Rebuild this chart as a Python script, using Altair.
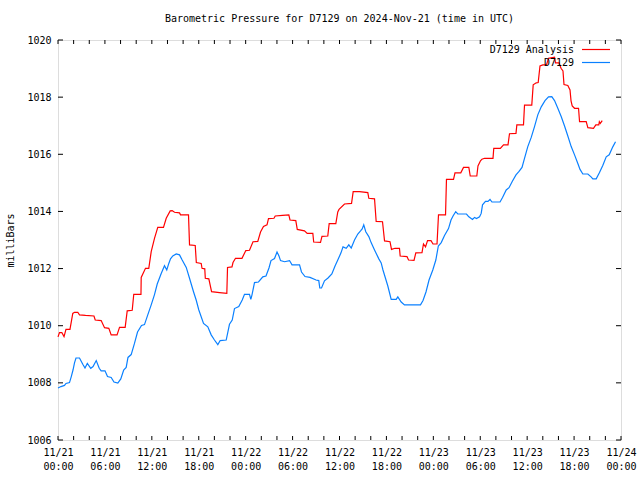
import altair as alt
import pandas as pd

FONT = "DejaVu Sans Mono"
TITLE = "Barometric Pressure for D7129 on 2024-Nov-21 (time in UTC)"
Y_TITLE = "milliBars"
SERIES = ["D7129 Analysis", "D7129"]
COLORS = ["#ff0000", "#0a80ff"]

# hours since 2024-11-21 00:00 UTC
analysis_hours = [0.0, 0.19, 0.49, 0.77, 1.02, 1.53, 1.89, 2.11, 2.53, 2.75, 3.52, 4.60, 4.76, 5.52,
                  5.95, 6.50, 6.80, 7.55, 7.87, 8.59, 8.85, 9.49, 9.69, 10.61, 10.64, 11.19, 11.61,
                  11.92, 12.34, 12.76, 13.49, 13.84, 14.35, 14.60, 14.90, 15.54, 15.67, 16.69, 16.82,
                  17.55, 17.69, 18.31, 18.42, 18.77, 18.84, 19.29, 19.64, 20.65, 21.59, 21.68, 22.25,
                  22.38, 22.70, 23.53, 24.02, 24.49, 24.94, 25.55, 25.90, 26.28, 26.73, 26.92, 27.62,
                  27.78, 28.71, 29.52, 29.67, 30.41, 30.60, 31.52, 31.87, 32.59, 32.70, 33.57, 33.76,
                  34.50, 34.68, 35.53, 35.78, 35.94, 36.64, 37.54, 37.75, 38.56, 39.62, 39.75, 40.48,
                  40.69, 41.50, 41.76, 42.46, 42.65, 43.10, 43.67, 43.76, 44.63, 44.83, 45.53, 45.76,
                  46.55, 46.74, 47.00, 47.26, 47.70, 47.96, 48.47, 48.66, 49.56, 49.68, 50.58, 50.77,
                  51.51, 51.86, 52.54, 52.72, 53.56, 53.71, 54.03, 54.22, 54.55, 55.63, 55.73, 56.57,
                  56.98, 57.55, 57.74, 58.57, 58.68, 59.53, 59.66, 60.59, 60.77, 61.16, 61.41, 61.64,
                  62.00, 62.47, 62.73, 63.50, 63.62, 64.07, 64.33, 64.58, 64.71, 65.20, 65.48, 65.61,
                  65.76, 66.06, 66.57, 66.70, 67.55, 67.76, 68.48, 68.78, 69.16, 69.23, 69.35, 69.60]
analysis_mb = [1009.61, 1009.76, 1009.76, 1009.62, 1009.87, 1009.87, 1010.43, 1010.47, 1010.47, 1010.38,
               1010.36, 1010.34, 1010.20, 1010.18, 1009.93, 1009.91, 1009.68, 1009.68, 1009.94, 1009.94,
               1010.52, 1010.54, 1011.10, 1011.10, 1011.69, 1012.01, 1012.01, 1012.59, 1013.06, 1013.44,
               1013.44, 1013.76, 1014.02, 1014.03, 1013.97, 1013.95, 1013.88, 1013.88, 1012.83, 1012.81,
               1012.21, 1012.18, 1012.01, 1011.99, 1011.66, 1011.64, 1011.19, 1011.16, 1011.13, 1012.04,
               1012.06, 1012.21, 1012.36, 1012.36, 1012.63, 1012.64, 1012.94, 1012.95, 1013.28, 1013.47,
               1013.53, 1013.75, 1013.76, 1013.84, 1013.86, 1013.88, 1013.70, 1013.68, 1013.37, 1013.32,
               1013.23, 1013.23, 1012.93, 1012.92, 1013.13, 1013.14, 1013.57, 1013.57, 1013.98, 1014.07,
               1014.26, 1014.28, 1014.69, 1014.69, 1014.66, 1014.46, 1014.44, 1013.65, 1013.64, 1012.97,
               1012.94, 1012.67, 1012.71, 1012.71, 1012.44, 1012.42, 1012.30, 1012.29, 1012.55, 1012.56,
               1012.86, 1012.76, 1012.98, 1012.98, 1012.86, 1012.86, 1013.88, 1013.88, 1015.12, 1015.12,
               1015.35, 1015.35, 1015.54, 1015.54, 1015.24, 1015.24, 1015.59, 1015.77, 1015.83, 1015.86,
               1015.86, 1016.21, 1016.21, 1016.33, 1016.33, 1016.72, 1016.73, 1017.03, 1017.03, 1017.72,
               1017.72, 1018.43, 1018.50, 1018.51, 1019.09, 1019.13, 1019.13, 1019.36, 1019.40, 1019.20,
               1019.20, 1019.01, 1018.92, 1018.44, 1018.41, 1018.25, 1017.87, 1017.69, 1017.61, 1017.61,
               1017.14, 1017.14, 1016.93, 1016.91, 1017.03, 1017.03, 1017.14, 1017.08, 1017.18]

obs_hours = [0.0, 0.38, 0.83, 1.02, 1.47, 1.69, 1.92, 2.11, 2.30, 2.75, 3.17, 3.45, 3.75, 4.19, 4.48,
             4.89, 5.27, 5.52, 6.01, 6.33, 6.80, 7.16, 7.65, 8.03, 8.40, 8.72, 8.95, 9.36, 9.78, 10.17,
             10.68, 11.06, 11.48, 11.92, 12.34, 12.69, 13.20, 13.62, 13.91, 14.17, 14.39, 14.68, 15.12,
             15.54, 15.88, 16.40, 16.82, 17.33, 17.67, 18.01, 18.61, 19.16, 19.59, 20.01, 20.44, 20.74,
             21.51, 21.93, 22.28, 22.57, 23.12, 23.56, 23.85, 24.49, 24.66, 24.81, 25.13, 25.64, 26.19,
             26.60, 26.98, 27.24, 27.69, 28.01, 28.26, 28.46, 28.97, 29.61, 29.93, 30.89, 31.14, 31.59,
             32.23, 33.00, 33.35, 33.48, 33.70, 34.08, 34.53, 35.02, 35.43, 35.78, 36.19, 36.45, 36.86,
             37.19, 37.50, 37.92, 38.34, 38.69, 38.90, 39.10, 39.36, 39.75, 40.06, 40.48, 41.03, 41.33,
             41.56, 41.88, 42.18, 42.61, 43.25, 43.46, 43.89, 44.31, 46.36, 46.68, 47.06, 47.45, 47.93,
             48.32, 48.64, 49.01, 49.43, 49.94, 50.26, 50.52, 50.86, 51.13, 52.24, 52.54, 53.01, 53.27,
             53.52, 53.91, 54.12, 54.29, 54.67, 54.99, 55.25, 55.50, 56.53, 56.85, 57.32, 57.68, 58.09,
             58.57, 58.96, 59.34, 59.66, 60.08, 60.52, 60.94, 61.36, 61.80, 62.28, 62.73, 63.15, 63.50,
             63.92, 64.35, 64.78, 65.20, 65.63, 66.06, 66.48, 66.76, 67.12, 67.76, 68.17, 68.40, 68.83,
             69.25, 69.67, 70.11, 70.49, 70.95, 71.30]
obs_mb = [1007.82, 1007.87, 1007.91, 1007.98, 1008.01, 1008.21, 1008.45, 1008.70, 1008.87, 1008.87,
          1008.65, 1008.52, 1008.68, 1008.51, 1008.57, 1008.78, 1008.51, 1008.42, 1008.42, 1008.22,
          1008.19, 1008.03, 1007.99, 1008.14, 1008.45, 1008.54, 1008.89, 1008.99, 1009.38, 1009.78,
          1010.01, 1010.04, 1010.38, 1010.73, 1011.09, 1011.46, 1011.83, 1012.10, 1011.95, 1012.18,
          1012.34, 1012.44, 1012.51, 1012.48, 1012.30, 1012.04, 1011.66, 1011.19, 1010.90, 1010.55,
          1010.08, 1009.96, 1009.68, 1009.50, 1009.34, 1009.48, 1009.50, 1010.05, 1010.20, 1010.60,
          1010.67, 1010.90, 1011.10, 1011.10, 1010.92, 1011.08, 1011.51, 1011.53, 1011.71, 1011.74,
          1012.02, 1012.28, 1012.35, 1012.58, 1012.44, 1012.28, 1012.24, 1012.28, 1012.13, 1012.13,
          1011.88, 1011.72, 1011.69, 1011.60, 1011.58, 1011.32, 1011.32, 1011.57, 1011.67, 1011.81,
          1012.09, 1012.30, 1012.55, 1012.76, 1012.71, 1012.83, 1012.72, 1013.00, 1013.21, 1013.32,
          1013.39, 1013.53, 1013.29, 1013.12, 1012.90, 1012.65, 1012.34, 1012.20, 1011.95, 1011.66,
          1011.39, 1010.92, 1010.92, 1011.01, 1010.83, 1010.73, 1010.73, 1010.88, 1011.18, 1011.60,
          1011.95, 1012.30, 1012.79, 1012.91, 1013.16, 1013.40, 1013.70, 1013.84, 1013.99, 1013.91,
          1013.91, 1013.81, 1013.72, 1013.79, 1013.75, 1013.81, 1013.93, 1014.23, 1014.35, 1014.35,
          1014.42, 1014.33, 1014.33, 1014.49, 1014.75, 1014.83, 1015.05, 1015.28, 1015.40, 1015.54,
          1015.86, 1016.27, 1016.59, 1016.97, 1017.38, 1017.66, 1017.88, 1018.01, 1018.02, 1017.88,
          1017.61, 1017.32, 1016.99, 1016.64, 1016.27, 1015.98, 1015.68, 1015.47, 1015.31, 1015.31,
          1015.21, 1015.14, 1015.14, 1015.36, 1015.61, 1015.91, 1015.98, 1016.26, 1016.44]

x_label_ticks = list(range(0, 73, 6))
x_all_ticks = list(range(0, 73, 2))
y_ticks = list(range(1006, 1021, 2))

W, H = 563, 400
TICK = 4

df = pd.concat([
    pd.DataFrame({"hour": analysis_hours, "mb": analysis_mb, "series": SERIES[0]}),
    pd.DataFrame({"hour": obs_hours, "mb": obs_mb, "series": SERIES[1]}),
], ignore_index=True)

xscale = alt.Scale(domain=[0, 72], nice=False, zero=False)
yscale = alt.Scale(domain=[1006, 1020], nice=False, zero=False)

x_axis = alt.Axis(
    values=x_label_ticks, ticks=False, domain=False, grid=False, title=None,
    labelExpr="['11/' + (21 + floor(datum.value / 24)), ((datum.value % 24) < 10 ? '0' : '') + (datum.value % 24) + ':00']",
    labelFont=FONT, labelFontSize=10, labelColor="black", labelPadding=7,
    labelLineHeight=14, labelBaseline="top", labelFlush=False, labelOverlap=False,
)
y_axis = alt.Axis(
    values=y_ticks, ticks=False, domain=False, grid=False, title=Y_TITLE, format="d",
    labelFont=FONT, labelFontSize=10, labelColor="black", labelPadding=7,
    titleFont=FONT, titleFontSize=10, titleFontWeight="normal", titleColor="black",
    titleX=-48, titleY=200, titleAngle=270, titleBaseline="middle", titleAlign="center",
)

lines = alt.Chart(df).mark_line(strokeWidth=1.2).encode(
    x=alt.X("hour:Q", scale=xscale, axis=x_axis),
    y=alt.Y("mb:Q", scale=yscale, axis=y_axis),
    color=alt.Color("series:N", scale=alt.Scale(domain=SERIES, range=COLORS), legend=None),
)

xt = pd.DataFrame({"hour": x_all_ticks})
yt = pd.DataFrame({"mb": y_ticks})

bottom_ticks = alt.Chart(xt).mark_rule(color="black", strokeWidth=1).encode(
    x=alt.X("hour:Q", scale=xscale, axis=x_axis), y=alt.value(H), y2=alt.value(H - TICK))
top_ticks = alt.Chart(xt).mark_rule(color="black", strokeWidth=1).encode(
    x=alt.X("hour:Q", scale=xscale, axis=x_axis), y=alt.value(0), y2=alt.value(TICK))
left_ticks = alt.Chart(yt).mark_rule(color="black", strokeWidth=1).encode(
    y=alt.Y("mb:Q", scale=yscale, axis=y_axis), x=alt.value(0), x2=alt.value(TICK + 1))
right_ticks = alt.Chart(yt).mark_rule(color="black", strokeWidth=1).encode(
    y=alt.Y("mb:Q", scale=yscale, axis=y_axis), x=alt.value(W - TICK - 1), x2=alt.value(W))

legend_layers = []
for i, (name, col) in enumerate(zip(SERIES, COLORS)):
    ld = pd.DataFrame({"label": [name]})
    yy = 9.5 + 13 * i
    legend_layers.append(
        alt.Chart(ld).mark_text(align="right", baseline="middle", font=FONT, fontSize=10, color="black").encode(
            text="label:N", x=alt.value(516), y=alt.value(yy))
    )
    legend_layers.append(
        alt.Chart(ld).mark_rule(color=col, strokeWidth=1.2).encode(
            x=alt.value(524), x2=alt.value(552), y=alt.value(yy))
    )

chart = alt.layer(lines, bottom_ticks, top_ticks, left_ticks, right_ticks, *legend_layers).properties(
    width=W, height=H,
    title=alt.TitleParams(TITLE, font=FONT, fontSize=10, fontWeight="normal", color="black",
                          anchor="middle", offset=11),
    autosize=alt.AutoSizeParams(type="none"),
    padding={"left": 58, "top": 40, "right": 19, "bottom": 40},
).configure_view(stroke="black", strokeWidth=1).configure(background="white")

chart.save("out.html", embed_options={"renderer": "svg", "actions": False})
